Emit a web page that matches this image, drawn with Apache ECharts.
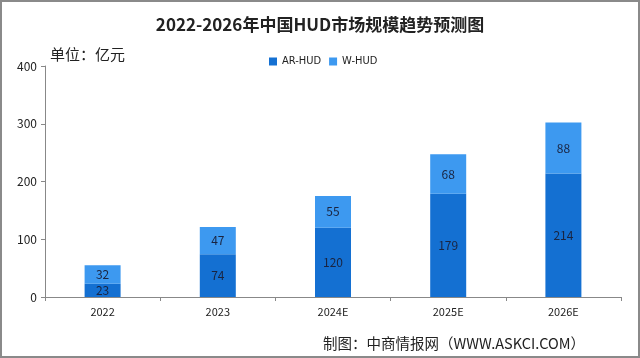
<!DOCTYPE html>
<html><head><meta charset="utf-8">
<script src="https://cdn.jsdelivr.net/npm/echarts@6/dist/echarts.min.js"></script>
<style>html,body{margin:0;padding:0;background:#fff}#c{width:640px;height:358px;box-sizing:border-box;border:2px solid #8a8a8a}</style>
</head><body><div id="c"></div>
<script>
const categories = ['2022','2023','2024E','2025E','2026E'];
const arHud = [23, 74, 120, 179, 214];
const wHud = [32, 47, 55, 68, 88];
const yTicks = [0, 100, 200, 300, 400];

const chart = echarts.init(document.getElementById('c'), null, {renderer:'canvas'});
const font = '"Noto Sans CJK SC", "Noto Sans", sans-serif';
chart.setOption({
  backgroundColor: '#fff',
  animation: false,
  title: [{
    text: '2022-2026年中国HUD市场规模趋势预测图',
    left: 'center', top: 9,
    textStyle: {fontFamily: font, fontSize: 17, fontWeight: 'bold', color: '#222'}
  },{
    text: '单位：亿元', left: 43, top: 40,
    textStyle: {fontFamily: font, fontSize: 15, fontWeight: 'normal', color: '#222'}
  },{
    text: '制图：中商情报网（WWW.ASKCI.COM）', left: 316, top: 329,
    textStyle: {fontFamily: font, fontSize: 14.5, fontWeight: 'normal', color: '#222'}
  }],
  legend: {
    data: ['AR-HUD','W-HUD'], left: 262, top: 49,
    itemWidth: 8, itemHeight: 8, itemGap: 8,
    icon: 'rect',
    textStyle: {fontFamily: '"Liberation Sans Narrow", "DejaVu Sans Condensed", sans-serif', fontSize: 11, color: '#222'}
  },
  grid: {left: 43, right: 17, top: 64, bottom: 59},
  xAxis: {
    type: 'category', data: categories,
    axisLine: {lineStyle: {color: '#888'}},
    axisTick: {show: true, lineStyle: {color: '#888'}, length: 4},
    axisLabel: {fontFamily: font, fontSize: 11, color: '#222', margin: 9}
  },
  yAxis: {
    type: 'value', min: yTicks[0], max: yTicks[yTicks.length-1], interval: 100,
    axisLine: {show: true, lineStyle: {color: '#888'}},
    axisTick: {show: true, lineStyle: {color: '#888'}, length: 4},
    splitLine: {show: false},
    axisLabel: {fontFamily: font, fontSize: 12, color: '#222', margin: 8}
  },
  series: [{
    name: 'AR-HUD', type: 'bar', stack: 'a', data: arHud, barWidth: 36,
    itemStyle: {color: '#1470d2'},
    label: {show: true, position: 'inside', fontFamily: font, fontSize: 12, color: '#1a2440'}
  },{
    name: 'W-HUD', type: 'bar', stack: 'a', data: wHud, barWidth: 36,
    itemStyle: {color: '#3d99f0'},
    label: {show: true, position: 'inside', fontFamily: font, fontSize: 12, color: '#1a2440'}
  }]
});
</script></body></html>
